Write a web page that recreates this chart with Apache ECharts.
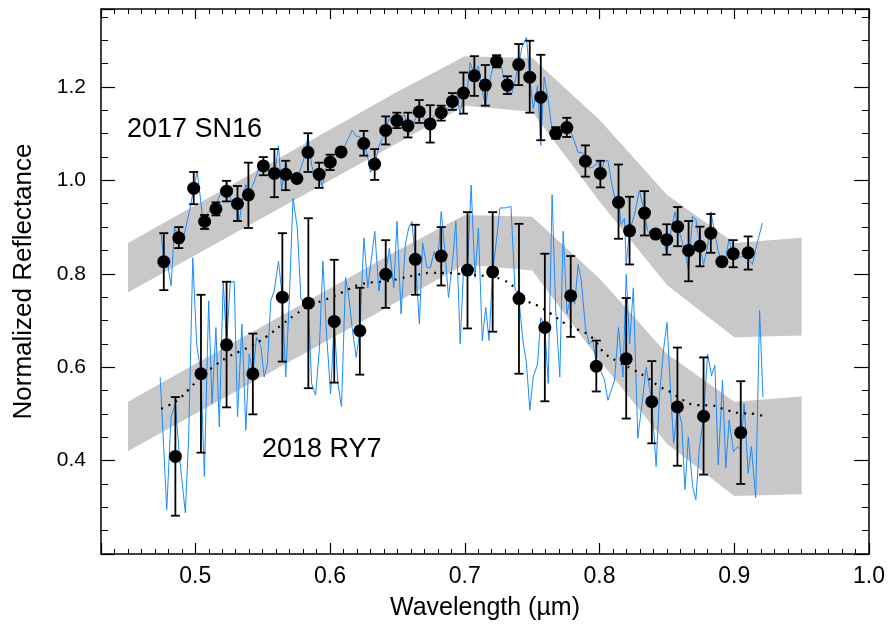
<!DOCTYPE html>
<html>
<head>
<meta charset="utf-8">
<script src="https://cdn.jsdelivr.net/npm/echarts@6/dist/echarts.min.js"></script>
<style>
  html, body { margin: 0; padding: 0; background: #fff; }
  #chart { width: 888px; height: 626px; }
</style>
</head>
<body>
<div id="chart"></div>
<script>
// grey model bands (upper / lower edge), wavelength in um
var bandWave = [0.45, 0.65, 0.70, 0.75, 0.80, 0.85, 0.90, 0.95];
var sn16BandHi = [0.866, 1.190, 1.266, 1.262, 1.130, 0.969, 0.866, 0.877];
var sn16BandLo = [0.760, 1.080, 1.160, 1.147, 0.955, 0.776, 0.664, 0.668];
var ry7BandHi = [0.526, 0.850, 0.926, 0.922, 0.790, 0.629, 0.526, 0.537];
var ry7BandLo = [0.420, 0.740, 0.820, 0.807, 0.615, 0.436, 0.324, 0.328];

// 2017 SN16 spectrum (blue)
var sn16SpecWave = [0.4746, 0.4766, 0.4788, 0.4820, 0.4845, 0.4877, 0.4902, 0.4931, 0.4961, 0.4988,
  0.5013, 0.5035, 0.5055, 0.5092, 0.5124, 0.5153, 0.5183, 0.5207, 0.5232, 0.5259,
  0.5289, 0.5309, 0.5326, 0.5350, 0.5375, 0.5400, 0.5429, 0.5454, 0.5479, 0.5511,
  0.5535, 0.5560, 0.5587, 0.5617, 0.5641, 0.5671, 0.5696, 0.5725, 0.5755, 0.5782,
  0.5809, 0.5836, 0.5863, 0.5893, 0.5920, 0.5942, 0.5974, 0.6002, 0.6031, 0.6056,
  0.6083, 0.6115, 0.6164, 0.6194, 0.6221, 0.6251, 0.6275, 0.6300, 0.6332, 0.6362,
  0.6386, 0.6413, 0.6440, 0.6468, 0.6497, 0.6527, 0.6554, 0.6579, 0.6608, 0.6633,
  0.6663, 0.6687, 0.6719, 0.6744, 0.6768, 0.6796, 0.6825, 0.6855, 0.6879, 0.6909,
  0.6941, 0.6966, 0.6990, 0.7015, 0.7040, 0.7072, 0.7101, 0.7125, 0.7153, 0.7187,
  0.7212, 0.7236, 0.7261, 0.7286, 0.7318, 0.7347, 0.7372, 0.7397, 0.7427, 0.7458,
  0.7483, 0.7508, 0.7540, 0.7564, 0.7589, 0.7619, 0.7643, 0.7675, 0.7705, 0.7730,
  0.7757, 0.7786, 0.7816, 0.7841, 0.7870, 0.7895, 0.7927, 0.7960, 0.7988, 0.8013,
  0.8032, 0.8062, 0.8092, 0.8124, 0.8141, 0.8161, 0.8185, 0.8198, 0.8222, 0.8259,
  0.8296, 0.8308, 0.8333, 0.8358, 0.8383, 0.8415, 0.8444, 0.8469, 0.8498, 0.8530,
  0.8560, 0.8580, 0.8609, 0.8634, 0.8661, 0.8691, 0.8715, 0.8745, 0.8772, 0.8802,
  0.8826, 0.8856, 0.8881, 0.8908, 0.8937, 0.8962, 0.8992, 0.9024, 0.9073, 0.9103,
  0.9135, 0.9167, 0.9209];
var sn16SpecVal = [0.887, 0.827, 0.834, 0.774, 0.898, 0.878, 0.866, 0.901, 0.940, 0.983,
  1.020, 0.969, 0.916, 0.930, 0.940, 0.948, 0.969, 0.970, 0.997, 0.963,
  0.940, 0.958, 0.911, 0.960, 0.991, 0.972, 0.991, 1.011, 1.034, 1.031,
  1.024, 1.017, 1.011, 1.074, 0.979, 1.040, 1.011, 1.008, 1.003, 1.025,
  1.050, 1.096, 1.033, 1.001, 1.011, 0.986, 1.033, 1.040, 1.054, 1.057,
  1.061, 1.077, 1.107, 1.095, 1.093, 1.079, 1.057, 1.017, 1.034, 1.072,
  1.089, 1.107, 1.133, 1.128, 1.135, 1.138, 1.140, 1.096, 1.116, 1.132,
  1.146, 1.143, 1.111, 1.118, 1.138, 1.146, 1.148, 1.143, 1.157, 1.171,
  1.182, 1.140, 1.189, 1.185, 1.252, 1.224, 1.245, 1.199, 1.160, 1.217,
  1.245, 1.252, 1.256, 1.224, 1.196, 1.185, 1.210, 1.245, 1.288, 1.306,
  1.217, 1.153, 1.203, 1.075, 1.221, 1.174, 1.118, 1.104, 1.107, 1.114,
  1.121, 1.104, 1.082, 1.060, 1.060, 1.050, 1.026, 1.030, 1.040, 1.015,
  1.040, 1.043, 0.990, 0.948, 0.955, 0.905, 0.919, 0.820, 0.892, 0.926,
  0.979, 0.982, 0.930, 0.891, 0.885, 0.885, 0.887, 0.880, 0.841, 0.891,
  0.933, 0.901, 0.873, 0.848, 0.806, 0.923, 0.916, 0.859, 0.820, 0.859,
  0.933, 0.887, 0.848, 0.826, 0.838, 0.875, 0.830, 0.834, 0.838, 0.834,
  0.820, 0.862, 0.909];

// 2017 SN16 binned points with error bars
var sn16Wave = [0.4766, 0.4877, 0.4988, 0.5069, 0.5153, 0.5232, 0.5313, 0.5394, 0.5505, 0.5587,
  0.5671, 0.5754, 0.5836, 0.5919, 0.6001, 0.6082, 0.6250, 0.6331, 0.6413, 0.6496,
  0.6578, 0.6662, 0.6743, 0.6825, 0.6908, 0.6990, 0.7071, 0.7152, 0.7236, 0.7316,
  0.7400, 0.7482, 0.7564, 0.7675, 0.7757, 0.7895, 0.8006, 0.8141, 0.8223, 0.8334,
  0.8416, 0.8499, 0.8580, 0.8661, 0.8745, 0.8826, 0.8908, 0.8992, 0.9103];
var sn16Val = [0.826, 0.877, 0.983, 0.912, 0.939, 0.977, 0.950, 0.969, 1.031, 1.015,
  1.013, 1.004, 1.060, 1.013, 1.039, 1.061, 1.079, 1.035, 1.107, 1.128,
  1.117, 1.147, 1.121, 1.145, 1.169, 1.187, 1.224, 1.204, 1.255, 1.204,
  1.248, 1.221, 1.178, 1.101, 1.113, 1.041, 1.015, 0.953, 0.892, 0.930,
  0.885, 0.873, 0.901, 0.850, 0.859, 0.887, 0.826, 0.843, 0.845];
var sn16Lo = [0.765, 0.855, 0.949, 0.896, 0.925, 0.955, 0.913, 0.898, 1.011, 0.964,
  0.979, 1.000, 1.018, 0.984, 1.022, 1.057, 1.053, 1.001, 1.077, 1.112,
  1.092, 1.123, 1.081, 1.128, 1.151, 1.143, 1.181, 1.160, 1.242, 1.185,
  1.204, 1.145, 1.086, 1.089, 1.093, 1.008, 0.985, 0.875, 0.820, 0.882,
  0.881, 0.841, 0.859, 0.784, 0.816, 0.845, 0.822, 0.814, 0.809];
var sn16Hi = [0.887, 0.900, 1.018, 0.926, 0.953, 0.999, 0.988, 1.038, 1.050, 1.067,
  1.042, 1.008, 1.101, 1.038, 1.055, 1.065, 1.106, 1.067, 1.137, 1.145,
  1.145, 1.172, 1.161, 1.160, 1.187, 1.231, 1.266, 1.247, 1.268, 1.223,
  1.292, 1.299, 1.269, 1.114, 1.134, 1.075, 1.042, 1.034, 0.965, 0.977,
  0.889, 0.906, 0.943, 0.913, 0.901, 0.928, 0.830, 0.872, 0.880];

// 2018 RY7 spectrum (blue)
var ry7SpecWave = [0.4739, 0.4759, 0.4788, 0.4820, 0.4852, 0.4882, 0.4926, 0.4951, 0.4981, 0.5010,
  0.5042, 0.5067, 0.5099, 0.5124, 0.5153, 0.5178, 0.5207, 0.5232, 0.5259, 0.5289,
  0.5313, 0.5346, 0.5375, 0.5400, 0.5427, 0.5454, 0.5486, 0.5511, 0.5535, 0.5560,
  0.5585, 0.5617, 0.5646, 0.5671, 0.5696, 0.5725, 0.5757, 0.5784, 0.5839, 0.5863,
  0.5893, 0.5920, 0.5947, 0.5974, 0.6004, 0.6031, 0.6058, 0.6085, 0.6115, 0.6140,
  0.6164, 0.6194, 0.6221, 0.6251, 0.6280, 0.6332, 0.6362, 0.6386, 0.6413, 0.6440,
  0.6473, 0.6497, 0.6527, 0.6559, 0.6583, 0.6608, 0.6633, 0.6663, 0.6687, 0.6719,
  0.6744, 0.6773, 0.6800, 0.6825, 0.6855, 0.6879, 0.6909, 0.6934, 0.6966, 0.6990,
  0.7020, 0.7047, 0.7076, 0.7101, 0.7130, 0.7155, 0.7180, 0.7207, 0.7237, 0.7261,
  0.7298, 0.7343, 0.7372, 0.7402, 0.7430, 0.7458, 0.7483, 0.7508, 0.7540, 0.7564,
  0.7594, 0.7619, 0.7648, 0.7675, 0.7705, 0.7730, 0.7759, 0.7786, 0.7816, 0.7841,
  0.7865, 0.7895, 0.7922, 0.7952, 0.7976, 0.8008, 0.8037, 0.8062, 0.8111, 0.8141,
  0.8174, 0.8198, 0.8223, 0.8251, 0.8284, 0.8321, 0.8346, 0.8388, 0.8420, 0.8444,
  0.8476, 0.8501, 0.8525, 0.8550, 0.8580, 0.8610, 0.8634, 0.8659, 0.8691, 0.8715,
  0.8740, 0.8772, 0.8802, 0.8831, 0.8856, 0.8881, 0.8913, 0.8937, 0.8962, 0.8994,
  0.9024, 0.9048, 0.9073, 0.9103, 0.9127, 0.9159, 0.9188, 0.9213];
var ry7SpecVal = [0.579, 0.465, 0.295, 0.494, 0.522, 0.409, 0.288, 0.451, 0.834, 0.650,
  0.586, 0.366, 0.742, 0.522, 0.685, 0.472, 0.784, 0.648, 0.781, 0.784,
  0.494, 0.692, 0.465, 0.628, 0.586, 0.664, 0.646, 0.579, 0.607, 0.742,
  0.763, 0.827, 0.750, 0.579, 0.735, 0.962, 0.898, 0.745, 0.737, 0.565,
  0.540, 0.636, 0.827, 0.671, 0.543, 0.698, 0.565, 0.515, 0.792, 0.749,
  0.685, 0.621, 0.678, 0.877, 0.770, 0.891, 0.763, 0.806, 0.799, 0.855,
  0.770, 0.912, 0.714, 0.863, 0.898, 0.912, 0.831, 0.692, 0.866, 0.813,
  0.813, 0.848, 0.827, 0.933, 0.841, 0.749, 0.827, 0.912, 0.650, 0.806,
  0.808, 0.990, 0.792, 0.898, 0.657, 0.728, 0.657, 0.804, 0.877, 0.941,
  0.941, 0.944, 0.770, 0.747, 0.660, 0.607, 0.508, 0.579, 0.607, 0.706,
  0.685, 0.565, 0.969, 0.721, 0.579, 0.891, 0.714, 0.753, 0.735, 0.820,
  0.784, 0.685, 0.650, 0.657, 0.602, 0.593, 0.572, 0.529, 0.572, 0.685,
  0.579, 0.799, 0.650, 0.770, 0.448, 0.536, 0.600, 0.526, 0.387, 0.536,
  0.640, 0.696, 0.560, 0.437, 0.515, 0.480, 0.338, 0.451, 0.345, 0.316,
  0.423, 0.495, 0.628, 0.582, 0.604, 0.391, 0.572, 0.384, 0.487, 0.419,
  0.430, 0.423, 0.522, 0.373, 0.430, 0.320, 0.721, 0.536];

// 2018 RY7 binned points with error bars
var ry7Wave = [0.4852, 0.5042, 0.5232, 0.5427, 0.5646, 0.5839, 0.6031, 0.6221, 0.6413, 0.6633,
  0.6825, 0.7020, 0.7207, 0.7402, 0.7594, 0.7786, 0.7976, 0.8198, 0.8388, 0.8578,
  0.8772, 0.9048];
var ry7Val = [0.409, 0.586, 0.648, 0.586, 0.750, 0.737, 0.698, 0.678, 0.799, 0.831,
  0.838, 0.808, 0.804, 0.747, 0.685, 0.753, 0.602, 0.618, 0.526, 0.515,
  0.495, 0.460];
var ry7Lo = [0.282, 0.417, 0.514, 0.499, 0.612, 0.555, 0.567, 0.584, 0.727, 0.755,
  0.775, 0.683, 0.676, 0.586, 0.527, 0.665, 0.548, 0.490, 0.437, 0.389,
  0.370, 0.350];
var ry7Hi = [0.536, 0.755, 0.783, 0.672, 0.887, 0.919, 0.830, 0.770, 0.872, 0.905,
  0.900, 0.932, 0.932, 0.907, 0.843, 0.838, 0.657, 0.748, 0.613, 0.642,
  0.621, 0.570];

// 2018 RY7 fitted curve (dotted)
var ry7FitWave = [0.4746, 0.4800, 0.4870, 0.4950, 0.5040, 0.5130, 0.5230, 0.5330, 0.5424, 0.5530,
  0.5646, 0.5740, 0.5839, 0.5940, 0.6031, 0.6130, 0.6221, 0.6320, 0.6413, 0.6520,
  0.6633, 0.6756, 0.6850, 0.6953, 0.7050, 0.7150, 0.7273, 0.7372, 0.7446, 0.7545,
  0.7643, 0.7742, 0.7841, 0.7939, 0.8038, 0.8137, 0.8235, 0.8346, 0.8432, 0.8526,
  0.8617, 0.8723, 0.8831, 0.8925, 0.9036, 0.9147, 0.9220];
var ry7FitVal = [0.511, 0.518, 0.530, 0.552, 0.579, 0.600, 0.620, 0.634, 0.647, 0.666,
  0.692, 0.712, 0.731, 0.742, 0.752, 0.766, 0.777, 0.782, 0.784, 0.790,
  0.797, 0.802, 0.802, 0.800, 0.798, 0.795, 0.788, 0.770, 0.745, 0.731,
  0.714, 0.694, 0.680, 0.665, 0.630, 0.612, 0.597, 0.579, 0.561, 0.547,
  0.530, 0.519, 0.518, 0.510, 0.502, 0.500, 0.495];

var FONT = 'Liberation Sans, Arial, Helvetica, sans-serif';

function zip(a, b) {
  return a.map(function (v, i) { return [v, b[i]]; });
}
function zip3(a, b, c) {
  return a.map(function (v, i) { return [v, b[i], c[i]]; });
}

function bandSeries(hi, lo) {
  return {
    type: 'custom',
    silent: true,
    z: 1,
    data: zip(bandWave, hi),
    renderItem: function (params, api) {
      if (params.dataIndex !== 0) return null;
      var pts = [];
      for (var i = 0; i < bandWave.length; i++) pts.push(api.coord([bandWave[i], hi[i]]));
      for (var j = bandWave.length - 1; j >= 0; j--) pts.push(api.coord([bandWave[j], lo[j]]));
      return { type: 'polygon', shape: { points: pts }, style: { fill: '#c8c8c8' } };
    }
  };
}

function renderErr(params, api) {
  var x = api.value(0);
  var top = api.coord([x, api.value(2)]);
  var bot = api.coord([x, api.value(1)]);
  var cap = 4.5;
  var st = { stroke: '#000', lineWidth: 1.8 };
  return {
    type: 'group',
    children: [
      { type: 'line', shape: { x1: top[0], y1: top[1], x2: bot[0], y2: bot[1] }, style: st },
      { type: 'line', shape: { x1: top[0] - cap, y1: top[1], x2: top[0] + cap, y2: top[1] }, style: st },
      { type: 'line', shape: { x1: bot[0] - cap, y1: bot[1], x2: bot[0] + cap, y2: bot[1] }, style: st }
    ]
  };
}

function errSeries(w, lo, hi) {
  return {
    type: 'custom',
    silent: true,
    z: 3,
    encode: { x: 0, y: [1, 2] },
    data: zip3(w, lo, hi),
    renderItem: renderErr
  };
}

function specSeries(w, v) {
  return {
    type: 'line',
    silent: true,
    z: 2,
    showSymbol: false,
    data: zip(w, v),
    lineStyle: { color: '#1a8cff', width: 1 }
  };
}

function dotSeries(w, v) {
  return {
    type: 'scatter',
    silent: true,
    z: 5,
    symbolSize: 13,
    itemStyle: { color: '#000', opacity: 1 },
    data: zip(w, v)
  };
}

function xAx(pos, major, minor, showLabel) {
  return {
    type: 'value', position: pos, min: 0.43, max: 1.0,
    splitLine: { show: false },
    axisLine: { show: true, onZero: false, lineStyle: { color: '#000', width: 1.5 } },
    axisTick: { show: true, inside: true, length: major, lineStyle: { color: '#000', width: 1.2 } },
    minorTick: { show: true, splitNumber: 10, length: minor, lineStyle: { color: '#000', width: 1 } },
    axisLabel: {
      show: showLabel, margin: 11, color: '#000', fontFamily: FONT, fontSize: 23,
      showMinLabel: false,
      formatter: function (v) { return v.toFixed(1); }
    },
    name: showLabel ? 'Wavelength (\u00b5m)' : '',
    nameLocation: 'middle', nameGap: 42,
    nameTextStyle: { color: '#000', fontFamily: FONT, fontSize: 25 }
  };
}

function yAx(pos, major, minor, showLabel) {
  return {
    type: 'value', position: pos, min: 0.2, max: 1.367,
    splitLine: { show: false },
    axisLine: { show: true, onZero: false, lineStyle: { color: '#000', width: 1.5 } },
    axisTick: { show: true, inside: true, length: major, lineStyle: { color: '#000', width: 1.2 } },
    minorTick: { show: true, splitNumber: 4, length: minor, lineStyle: { color: '#000', width: 1 } },
    axisLabel: {
      show: showLabel, margin: 15, color: '#000', fontFamily: FONT, fontSize: 21,
      showMinLabel: false, showMaxLabel: false,
      formatter: function (v) { return v.toFixed(1); }
    },
    name: showLabel ? 'Normalized Reflectance' : '',
    nameLocation: 'middle', nameGap: 64,
    nameTextStyle: { color: '#000', fontFamily: FONT, fontSize: 26 }
  };
}

var myChart = echarts.init(document.getElementById('chart'), null, { renderer: 'canvas' });

var option = {
  animation: false,
  backgroundColor: '#fff',
  grid: { left: 101, right: 16, top: 9, bottom: 69, containLabel: false },
  xAxis: [xAx('bottom', 11, 5, true), xAx('top', 10, 5, false)],
  yAxis: [yAx('left', 14, 7, true), yAx('right', 15, 7, false)],
  graphic: [
    { type: 'text', left: 127, top: 116, style: { text: '2017 SN16', font: '27px ' + FONT, fill: '#000' } },
    { type: 'text', left: 262, top: 436, style: { text: '2018 RY7', font: '27px ' + FONT, fill: '#000' } }
  ],
  series: [
    bandSeries(sn16BandHi, sn16BandLo),
    bandSeries(ry7BandHi, ry7BandLo),
    specSeries(sn16SpecWave, sn16SpecVal),
    specSeries(ry7SpecWave, ry7SpecVal),
    {
      type: 'line',
      silent: true,
      z: 4,
      showSymbol: false,
      smooth: true,
      data: zip(ry7FitWave, ry7FitVal),
      lineStyle: { color: '#000', width: 2.2, type: [2, 6] }
    },
    errSeries(sn16Wave, sn16Lo, sn16Hi),
    errSeries(ry7Wave, ry7Lo, ry7Hi),
    dotSeries(sn16Wave, sn16Val),
    dotSeries(ry7Wave, ry7Val)
  ]
};

myChart.setOption(option);
</script>
</body>
</html>
